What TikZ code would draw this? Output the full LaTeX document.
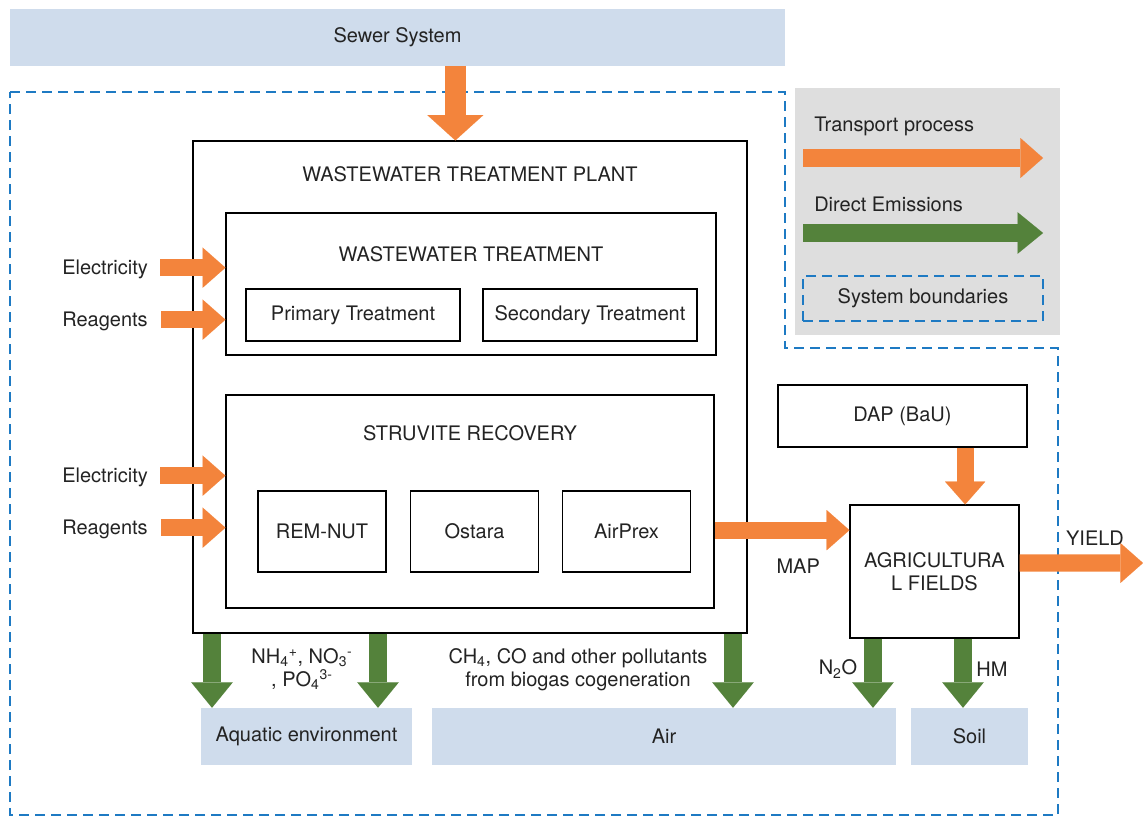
\documentclass[tikz,border=0pt]{standalone}
\usepackage{fontspec}
\setmainfont{TeX Gyre Heros}
\usetikzlibrary{arrows.meta,positioning}

\definecolor{transportc}{RGB}{243,132,60}
\definecolor{emissionc}{RGB}{84,130,59}
\definecolor{envc}{RGB}{207,220,236}
\definecolor{legendc}{RGB}{222,222,222}
\definecolor{boundc}{RGB}{30,122,195}
\definecolor{txtc}{RGB}{35,35,35}

\tikzset{
  box/.style       = {draw, line width=0.9pt, inner sep=0pt, align=center},
  envbox/.style    = {fill=envc, inner sep=0pt, align=center},
  lbl/.style       = {inner sep=0pt, align=center},
  transport/.style = {draw=transportc, line width=13pt,
                      -{Triangle[width=30pt,length=17pt,line width=0.01pt]}},
  emission/.style  = {draw=emissionc, line width=13.5pt,
                      -{Triangle[width=31pt,length=19pt,line width=0.01pt]}},
  bound/.style     = {draw=boundc, line width=1.9pt, dash pattern=on 7.5pt off 4.5pt}
}

\begin{document}
\begin{tikzpicture}
  [
    x = 0.75pt, y = -0.75pt,
    every node/.style = {font=\fontsize{15}{17.5}\selectfont, text=txtc}
  ]
  \useasboundingbox (0,0) rectangle (1143,818);

  % system boundary
  \draw[bound] (10,92) -- (785,92) -- (785,348) -- (1058,348)
               -- (1058,815) -- (10,815) -- cycle;

  % legend
  \node[fill=legendc, minimum width=198.75pt, minimum height=185.25pt] (legend) at (927.5,211.5) {};
  \node[lbl, anchor=west] (tplbl) at (814,126) {Transport process};
  \node[lbl, anchor=west] (delbl) at (814,204) {Direct Emissions};
  \coordinate (tp0) at (803,158); \coordinate (tp1) at (1043,158);
  \coordinate (de0) at (803,233); \coordinate (de1) at (1043,233);
  \draw[transport] (tp0) -- (tp1);
  \draw[emission] (de0) -- (de1);
  \node[bound, inner sep=0pt, minimum width=180pt, minimum height=33.75pt] (sbkey) at (923,298.5) {System boundaries};

  % sewer and plant
  \node[envbox, minimum width=581.25pt, minimum height=42.75pt] (sewer) at (397.5,37) {Sewer System};
  \node[box, minimum width=415.5pt, minimum height=369pt] (wwtp) at (470,387) {};
  \node[lbl] (wwtptitle) at (470,174) {WASTEWATER TREATMENT PLANT};

  \node[box, minimum width=367.5pt, minimum height=106.5pt] (wwt) at (471,284) {};
  \node[lbl] (wwttitle) at (471,254) {WASTEWATER TREATMENT};
  \node[box, minimum width=160.5pt, minimum height=39pt] (primary) at (353,315) {Primary Treatment};
  \node[box, minimum width=160.5pt, minimum height=39pt] (secondary) at (590,315) {Secondary Treatment};

  \node[box, minimum width=366pt, minimum height=159.75pt] (struv) at (470,501.5) {};
  \node[lbl] (struvtitle) at (470,433) {STRUVITE RECOVERY};
  \node[box, minimum width=96pt, minimum height=60.75pt] (remnut) at (322,531.5) {REM-NUT};
  \node[box, minimum width=96pt, minimum height=60.75pt] (ostara) at (474.5,531.5) {Ostara};
  \node[box, minimum width=96pt, minimum height=60.75pt] (airprex) at (626.5,531.5) {AirPrex};

  % fields
  \node[box, minimum width=186.75pt, minimum height=46.5pt] (dap) at (902.5,416) {DAP (BaU)};
  \node[box, minimum width=126.75pt, minimum height=99.75pt] (agri) at (934.5,571.5) {AGRICULTURA\\L FIELDS};

  % environment
  \node[envbox, minimum width=158.25pt, minimum height=42.75pt] (aquatic) at (306.5,736.5) {Aquatic environment};
  \node[envbox, minimum width=348pt, minimum height=42.75pt] (air) at (664,736.5) {Air};
  \node[envbox, minimum width=87.75pt, minimum height=42.75pt] (soil) at (969.5,736.5) {Soil};

  % inputs
  \node[lbl, anchor=west] (elec1) at (62,269) {Electricity};
  \node[lbl, anchor=west] (reag1) at (62,321) {Reagents};
  \node[lbl, anchor=west] (elec2) at (62,477) {Electricity};
  \node[lbl, anchor=west] (reag2) at (62,529) {Reagents};
  \draw[transport] ([xshift=9pt,yshift=1pt]elec1.east) -- ([yshift=1pt]elec1.east -| wwt.west);
  \draw[transport] ([xshift=10pt,yshift=1pt]reag1.east) -- ([yshift=1pt]reag1.east -| wwt.west);
  \draw[transport] ([xshift=9pt,yshift=1pt]elec2.east) -- ([yshift=1pt]elec2.east -| struv.west);
  \draw[transport] ([xshift=10pt,yshift=1pt]reag2.east) -- ([yshift=1pt]reag2.east -| struv.west);

  % transport
  \coordinate (sewin) at ([xshift=-11pt]wwtp.north);
  \draw[transport, line width=16pt, -{Triangle[width=42pt,length=19pt,line width=0.01pt]}]
    (sewin |- sewer.south) -- (sewin);
  \coordinate (mapin) at ([yshift=31pt]agri.west);
  \draw[transport] (mapin -| struv.east) -- node[lbl, pos=0.62, below=15pt] (maplbl) {MAP} (mapin);
  \coordinate (dapin) at ([xshift=23pt]agri.north);
  \draw[transport] (dapin |- dap.south) -- (dapin);
  \coordinate (yieldout) at ([yshift=6.4pt]agri.east);
  \coordinate (yieldend) at (1143,563);
  \draw[transport] (yieldout) -- (yieldend);
  \node[lbl] (yieldlbl) at (1095,538) {YIELD};

  % emissions
  \coordinate (e1) at (212,0);
  \coordinate (e2) at (378,0);
  \coordinate (e3) at (733,0);
  \coordinate (e4) at (873,0);
  \coordinate (e5) at (963,0);
  \draw[emission] (e1 |- wwtp.south) -- (e1 |- aquatic.north);
  \draw[emission] (e2 |- wwtp.south) -- (e2 |- aquatic.north);
  \draw[emission] (e3 |- wwtp.south) -- (e3 |- air.north);
  \draw[emission] (e4 |- agri.south) -- (e4 |- air.north);
  \draw[emission] (e5 |- agri.south) -- (e5 |- soil.north);
  \node[lbl] (nutlbl) at (302,669)
    {NH\textsubscript{4}\textsuperscript{+}, NO\textsubscript{3}\textsuperscript{-}\\, PO\textsubscript{4}\textsuperscript{3-}};
  \node[lbl] (ch4lbl) at (578,670)
    {CH\textsubscript{4}, CO and other pollutants\\from biogas cogeneration};
  \node[lbl] (n2olbl) at (838,669) {N\textsubscript{2}O};
  \node[lbl] (hmlbl) at (992,669) {HM};
\end{tikzpicture}
\end{document}
